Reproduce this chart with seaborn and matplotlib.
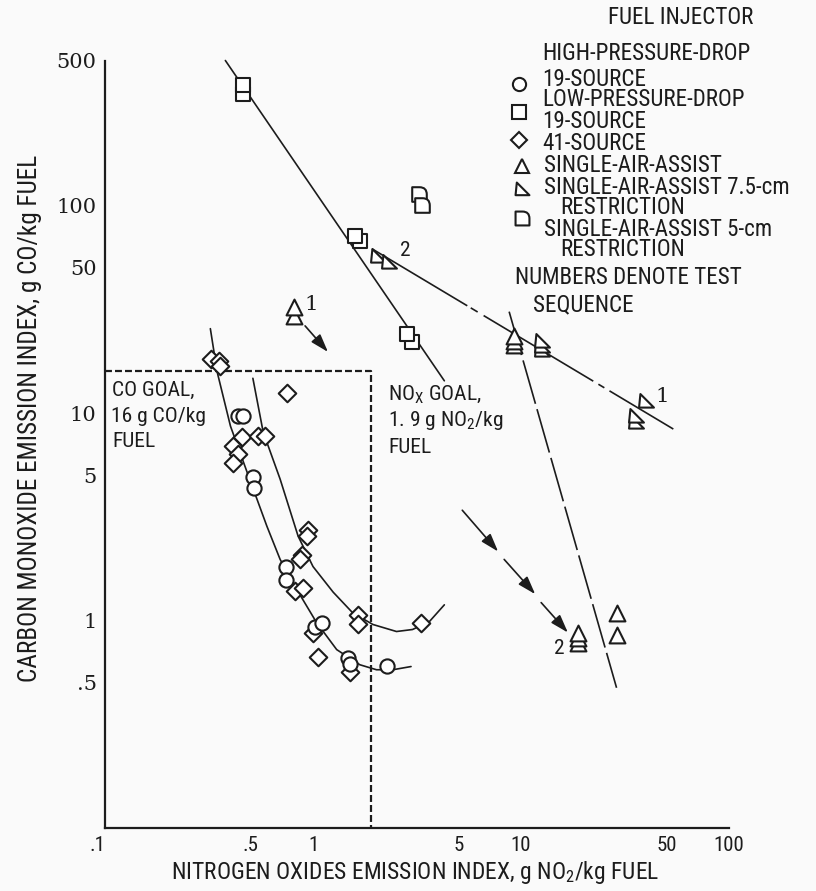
import matplotlib
matplotlib.use("Agg")
import matplotlib.pyplot as plt
import matplotlib.font_manager as fm
from matplotlib.path import Path
from matplotlib.ticker import NullLocator
import seaborn as sns

# ---------------- data ----------------
# High-pressure-drop 19-source (circles)
hp19_x = [0.438, 0.463, 0.516, 0.522, 0.742, 0.742, 1.02, 1.10, 1.47, 1.50, 2.26]
hp19_y = [9.68, 9.68, 4.91, 4.34, 1.82, 1.56, 0.935, 0.978, 0.663, 0.62, 0.606]
# Low-pressure-drop 19-source (squares)
lp19_x = [0.463, 0.463, 1.68, 1.59, 2.98, 2.82]
lp19_y = [344, 380, 67.8, 71.6, 22.0, 24.1]
# Low-pressure-drop 41-source (diamonds)
lp41_x = [0.325, 0.355, 0.357, 0.751, 0.457, 0.414, 0.438, 0.414, 0.545, 0.589,
          0.946, 0.937, 0.886, 0.866, 0.82, 0.896, 1.0, 1.06, 1.64, 1.64, 3.32, 1.50]
lp41_y = [18.2, 17.8, 16.9, 12.5, 7.66, 6.93, 6.34, 5.73, 7.74, 7.74,
          2.72, 2.55, 2.08, 1.97, 1.38, 1.43, 0.875, 0.67, 1.06, 0.957, 0.968, 0.567]
# Single-air-assist (triangles)
saa_x = [0.811, 0.811, 9.27, 9.27, 9.27, 18.7, 18.7, 18.7, 29.1, 29.1]
saa_y = [29.5, 32.5, 21.3, 22.3, 23.6, 0.78, 0.82, 0.875, 1.09, 0.855]
# Single-air-assist 7.5-cm restriction
saa75_x = [2.05, 2.33, 12.6, 12.6, 12.6, 35.9, 35.9, 40.1]
saa75_y = [56.8, 53.6, 20.1, 21.1, 22.3, 9.06, 9.68, 11.4]
# Single-air-assist 5-cm restriction
saa5_x = [3.25, 3.36]
saa5_y = [114, 101]

# fitted curves / lines
curve_hp19_x = [0.321, 0.346, 0.401, 0.482, 0.600, 0.695, 0.836, 1.04, 1.30, 1.68, 2.02, 2.42, 2.96]
curve_hp19_y = [25.5, 15.8, 8.65, 5.19, 2.85, 1.97, 1.41, 0.978, 0.724, 0.612, 0.579, 0.579, 0.60]
curve_lp41_x = [0.514, 0.576, 0.695, 0.848, 1.0, 1.25, 1.55, 1.94, 2.52, 3.01, 3.63, 4.28]
curve_lp41_y = [14.7, 8.1, 4.8, 2.55, 1.82, 1.37, 1.09, 0.957, 0.885, 0.905, 0.989, 1.19]
line_lp19_x = [0.379, 4.28]
line_lp19_y = [500, 14.3]
line_saa_x = [1.92, 54.0]
line_saa_y = [61.9, 8.37]
line_saa2_x = [8.77, 28.8]
line_saa2_y = [30.8, 0.474]

co_goal = 16
nox_goal = 1.9

arrow_start = [(0.916, 26.3), (5.22, 3.40), (8.30, 1.97), (12.5, 1.22)]
arrow_end = [(1.18, 19.7), (7.76, 2.15), (11.7, 1.34), (16.8, 0.875)]

xtick_vals = [0.1, 0.5, 1, 5, 10, 50, 100]
xtick_labels = ['.1', '.5', '1', '5', '10', '50', '100']
ytick_vals = [0.5, 1, 5, 10, 50, 100, 500]
ytick_labels = ['.5', '1', '5', '10', '50', '100', '500']

# ---------------- style ----------------
sns.set_style("white")
plt.rcParams['lines.scale_dashes'] = False

names = {f.name for f in fm.fontManager.ttflist}
FONT, STRETCH = 'DejaVu Sans', 'normal'
for cand in ['Liberation Sans Narrow', 'Roboto Condensed', 'Open Sans Condensed',
             'Noto Sans Condensed', 'DejaVu Sans Condensed']:
    if cand in names:
        FONT = cand
        break
else:
    if any(f.name == 'DejaVu Sans' and f.stretch == 'condensed' for f in fm.fontManager.ttflist):
        STRETCH = 'condensed'
plt.rcParams['font.family'] = [FONT, 'DejaVu Sans']
plt.rcParams['font.stretch'] = STRETCH
SERIF = 'DejaVu Serif'

BG = '#fafafa'
INK = '#1c1c1c'
W, H = 816, 891

fig = plt.figure(figsize=(W / 100, H / 100), dpi=100, facecolor=BG)
renderer = fig.canvas.get_renderer()


def fp(x, y):
    return x / W, 1 - y / H


def fit_size(txt, target_px, family=None):
    t = fig.text(0, 0, txt, fontsize=20, family=[family or FONT, 'DejaVu Sans'],
                 fontstretch=STRETCH)
    bb = t.get_window_extent(renderer)
    t.remove()
    return 20 * target_px / bb.width


ax = fig.add_axes([105 / W, 1 - 828 / H, (729 - 105) / W, (828 - 60.5) / H])
ax.set_facecolor(BG)
ax.set_xscale('log')
ax.set_yscale('log')
ax.set_xlim(0.1, 100)
ax.set_ylim(0.1, 500)
for s in ['top', 'right']:
    ax.spines[s].set_visible(False)
for s in ['left', 'bottom']:
    ax.spines[s].set_linewidth(1.6)
    ax.spines[s].set_color(INK)

# markers
tri_right = Path([(-0.45, 0.55), (-0.55, -0.45), (0.55, -0.45), (-0.45, 0.55)],
                 [Path.MOVETO, Path.LINETO, Path.LINETO, Path.CLOSEPOLY])
d_shape = Path([(-0.5, -0.5), (-0.5, 0.5), (0.0, 0.5), (0.5, 0.5), (0.5, 0.0),
                (0.5, -0.5), (-0.5, -0.5)],
               [Path.MOVETO, Path.LINETO, Path.LINETO, Path.CURVE3, Path.CURVE3,
                Path.LINETO, Path.CLOSEPOLY])

mk = dict(color='white', edgecolor=INK, linewidth=1.5, zorder=4, legend=False,
          clip_on=False)

# lines
lw = 1.2
sns.lineplot(x=curve_hp19_x, y=curve_hp19_y, sort=False, estimator=None, color=INK, lw=lw, ax=ax)
sns.lineplot(x=curve_lp41_x, y=curve_lp41_y, sort=False, estimator=None, color=INK, lw=lw, ax=ax)
sns.lineplot(x=line_lp19_x, y=line_lp19_y, sort=False, estimator=None, color=INK, lw=lw, ax=ax)
ax.lines[-1].set_clip_on(False)
sns.lineplot(x=line_saa_x, y=line_saa_y, sort=False, estimator=None, color=INK, lw=lw, ax=ax)
ax.lines[-1].set_dashes([80, 2.9, 5.8, 5, 92, 4.3, 5, 4.3, 160, 1])
sns.lineplot(x=line_saa2_x, y=line_saa2_y, sort=False, estimator=None, color=INK, lw=lw, ax=ax)
ax.lines[-1].set_dashes([32.5, 4])
sns.lineplot(x=[xtick_vals[0], nox_goal, nox_goal], y=[co_goal, co_goal, 0.1], sort=False,
             estimator=None, color=INK, lw=1.6, ax=ax)
ax.lines[-1].set_dashes([5, 2.2])

# scatter points
sns.scatterplot(x=lp41_x, y=lp41_y, marker='D', s=80, ax=ax, **mk)
sns.scatterplot(x=hp19_x, y=hp19_y, marker='o', s=105, ax=ax, **mk)
sns.scatterplot(x=lp19_x, y=lp19_y, marker='s', s=110, ax=ax, **mk)
sns.scatterplot(x=saa_x, y=saa_y, marker='^', s=130, ax=ax, **mk)
sns.scatterplot(x=saa75_x, y=saa75_y, marker=tri_right, s=115, ax=ax, **mk)
sns.scatterplot(x=saa5_x, y=saa5_y, marker=d_shape, s=110, ax=ax, **mk)

# arrows
for (x0, y0), (x1, y1) in zip(arrow_start, arrow_end):
    ax.annotate('', xy=(x1, y1), xytext=(x0, y0),
                arrowprops=dict(arrowstyle='-|>,head_length=0.55,head_width=0.18',
                                lw=1.2, color=INK, shrinkA=0, shrinkB=0,
                                mutation_scale=20))

# ticks
ax.set_xticks(xtick_vals)
ax.set_xticklabels(xtick_labels)
ax.set_yticks(ytick_vals)
ax.set_yticklabels(ytick_labels)
ax.xaxis.set_minor_locator(NullLocator())
ax.yaxis.set_minor_locator(NullLocator())
xt_size = fit_size('100', 31)
yt_size = fit_size('500', 40, family=SERIF)
ax.tick_params(axis='both', direction='in', length=9, width=1.5, color=INK, labelcolor=INK)
ax.tick_params(axis='x', pad=6, labelsize=xt_size)
ax.tick_params(axis='y', pad=6, labelsize=yt_size)
for t in ax.get_yticklabels():
    t.set_family(SERIF)
ax.get_xticklabels()[0].set_ha('right')

# axis labels
xl = 'NITROGEN OXIDES EMISSION INDEX, g NO$_\\mathregular{2}$/kg FUEL'
fig.text(*fp(415, 872), xl, ha='center', va='center', color=INK,
         fontsize=fit_size(xl, 487))
yl = 'CARBON MONOXIDE EMISSION INDEX, g CO/kg FUEL'
fig.text(*fp(30, 418), yl, ha='center', va='center', rotation=90, color=INK,
         fontsize=fit_size(yl, 530))

# goal annotations
gsz = fit_size('16 g CO/kg', 95)
for txt, (px, py) in [('CO GOAL,', (112, 390)), ('16 g CO/kg', (111, 416)), ('FUEL', (112, 442))]:
    fig.text(*fp(px, py), txt, ha='left', va='center', color=INK, fontsize=gsz)
for txt, (px, py) in [('NO$_\\mathregular{X}$ GOAL,', (388, 395)),
                      ('1. 9 g NO$_\\mathregular{2}$/kg', (388, 421)),
                      ('FUEL', (388, 447))]:
    fig.text(*fp(px, py), txt, ha='left', va='center', color=INK, fontsize=gsz)

# test sequence numbers
for txt, (px, py), fam in [('2', (405, 250), FONT), ('1', (311, 305), SERIF),
                           ('1', (662, 396), SERIF), ('2', (559, 648), FONT)]:
    fig.text(*fp(px, py), txt, ha='center', va='center', color=INK,
             fontsize=gsz, family=[fam, 'DejaVu Sans'])

# legend block
lsz = fit_size('SINGLE-AIR-ASSIST 7.5-cm', 264) * 0.93
legend_lines = [
    ('FUEL INJECTOR', 608, 18), ('HIGH-PRESSURE-DROP', 542, 54), ('19-SOURCE', 542, 79),
    ('LOW-PRESSURE-DROP', 542, 100), ('19-SOURCE', 542, 122), ('41-SOURCE', 542, 143),
    ('SINGLE-AIR-ASSIST', 544, 166), ('SINGLE-AIR-ASSIST 7.5-cm', 544, 187),
    ('RESTRICTION', 560, 208), ('SINGLE-AIR-ASSIST 5-cm', 544, 229),
    ('RESTRICTION', 560, 250), ('NUMBERS DENOTE TEST', 515, 278), ('SEQUENCE', 533, 305),
]
for txt, px, py in legend_lines:
    fig.text(*fp(px, py), txt, ha='left', va='center', color=INK, fontsize=lsz)

legend_marks = [('o', 9.5, 519, 84), ('s', 9.5, 519, 112), ('D', 8, 519, 140),
                ('^', 10.5, 522, 166), (tri_right, 10, 522, 189), (d_shape, 10, 522, 218)]
for m, ms, px, py in legend_marks:
    ax.plot([px / W], [1 - py / H], marker=m, ms=ms, mfc='white', mec=INK, mew=1.5,
            transform=fig.transFigure, clip_on=False, ls='none')

fig.savefig('out.png', dpi=100, facecolor=BG)
